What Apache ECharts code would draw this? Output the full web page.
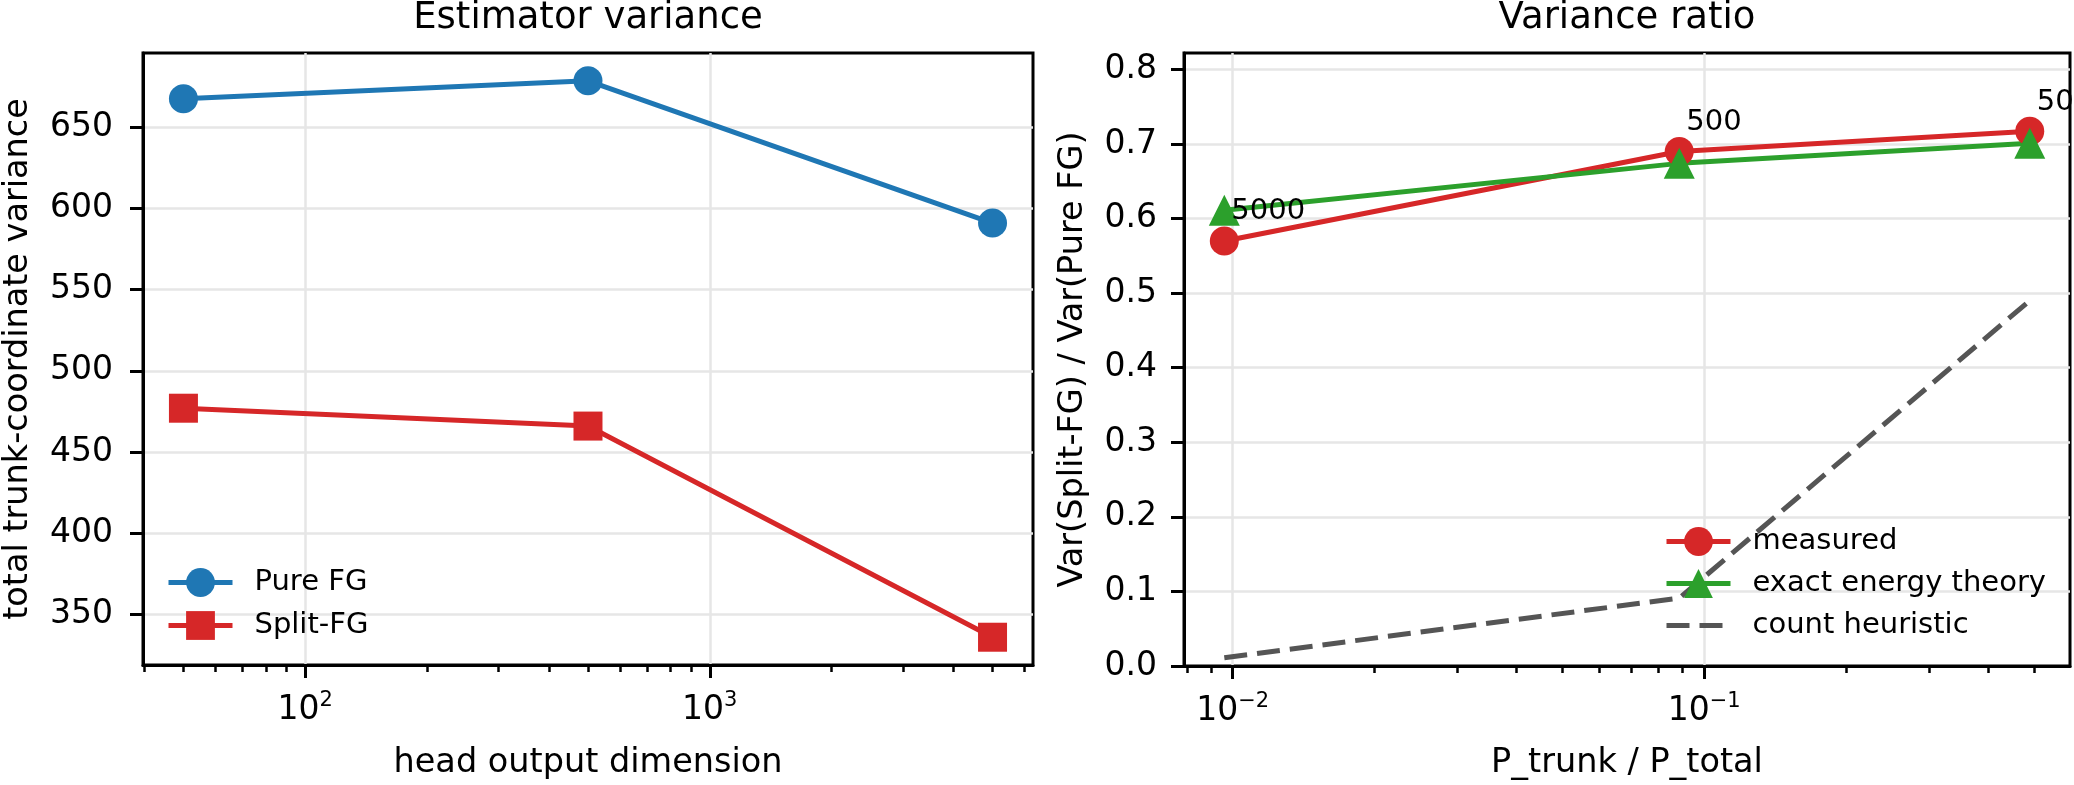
<!DOCTYPE html>
<html><head><meta charset="utf-8">
<script src="https://cdn.jsdelivr.net/npm/echarts@6/dist/echarts.min.js"></script>
<style>html,body{margin:0;padding:0;background:#fff}#c{width:2074px;height:785px}</style>
</head><body><div id="c"></div>
<script>
// ---- data ----
const headDims = [50, 500, 5000];
const pureFG = [667.6, 678.6, 591];
const splitFG = [477, 466, 336];
const pTrunkRatio = [0.0096, 0.0885, 0.49];
const measuredRatio = [0.570, 0.690, 0.717];
const theoryRatio = [0.611, 0.674, 0.701];
const countRatio = [0.011, 0.091, 0.49];
const pointLabels = ['5000', '500', '50'];
const leftYTicks = [350, 400, 450, 500, 550, 600, 650];
const rightYTicks = [0, 0.1, 0.2, 0.3, 0.4, 0.5, 0.6, 0.7, 0.8];
const leftXMajor = [100, 1000];
const leftXMinor = [40, 50, 60, 70, 80, 90, 200, 300, 400, 500, 600, 700, 800, 900, 2000, 3000, 4000, 5000, 6000];
const rightXMajor = [0.01, 0.1];
const rightXMinor = [0.008, 0.009, 0.02, 0.03, 0.04, 0.05, 0.06, 0.07, 0.08, 0.09, 0.2, 0.3, 0.4, 0.5];

const FONT = 'DejaVu Sans';
const TICK_FS = 33, LABEL_FS = 33.5, TITLE_FS = 37, LEG_FS = 29;
const chart = echarts.init(document.getElementById('c'), null, {renderer: 'canvas'});

function pairs(xs, ys) { return xs.map((x, i) => [x, ys[i]]); }
function powLabel(v) {
  const e = Math.round(Math.log10(v));
  const s = e < 0 ? '\u2212' + (-e) : String(e);
  return '{b|10}{s|' + s + '}';
}
const powRich = {
  b: {fontSize: TICK_FS, fontFamily: FONT, color: '#000', lineHeight: 41},
  s: {fontSize: 21, fontFamily: FONT, color: '#000', lineHeight: 21, verticalAlign: 'top'}
};
const gridLine = {show: true, lineStyle: {color: '#e6e6e6', width: 2.5}};

function majorX(grid, min, max, major, name, gap) {
  return {
    gridIndex: grid, type: 'log', logBase: 10, min: min, max: max, position: 'bottom',
    name: name, nameLocation: 'middle', nameGap: gap,
    nameTextStyle: {fontSize: LABEL_FS, fontFamily: FONT, color: '#000'},
    axisLine: {show: true, onZero: false, lineStyle: {color: '#000', width: 3}},
    axisTick: {show: true, customValues: major, length: 13, lineStyle: {color: '#000', width: 3}},
    axisLabel: {show: true, customValues: major, formatter: powLabel, rich: powRich, margin: 25},
    splitLine: gridLine, minorTick: {show: false}, minorSplitLine: {show: false}
  };
}
function minorX(grid, min, max, minor) {
  return {
    gridIndex: grid, type: 'log', logBase: 10, min: min, max: max, position: 'bottom',
    axisLine: {show: false, onZero: false},
    axisTick: {show: true, customValues: minor, length: 7, lineStyle: {color: '#000', width: 2.5}},
    axisLabel: {show: false}, splitLine: {show: false}
  };
}
function yAx(grid, min, max, ticks, fmt, name, gap, margin) {
  return {
    gridIndex: grid, type: 'value', min: min, max: max, position: 'left',
    name: name, nameLocation: 'middle', nameGap: gap,
    nameTextStyle: {fontSize: LABEL_FS, fontFamily: FONT, color: '#000'},
    axisLine: {show: true, lineStyle: {color: '#000', width: 3}},
    axisTick: {show: true, customValues: ticks, length: 13, lineStyle: {color: '#000', width: 3}},
    axisLabel: {show: true, customValues: ticks, formatter: fmt, fontSize: TICK_FS, fontFamily: FONT, color: '#000', margin: margin},
    splitLine: gridLine
  };
}
function legendBox(left, top, gap, data) {
  return {
    show: true, orient: 'vertical', left: left, top: top, padding: 0,
    itemWidth: 64, itemHeight: 36, itemGap: gap, selectedMode: false, data: data,
    lineStyle: {width: 5},
    textStyle: {fontSize: LEG_FS, fontFamily: FONT, color: '#000', padding: [0, 0, 0, 17]}
  };
}

const option = {
  animation: false,
  backgroundColor: '#fff',
  textStyle: {fontFamily: FONT},
  grid: [
    {left: 143, top: 53, width: 890, height: 614, show: true, borderColor: '#000', borderWidth: 3, backgroundColor: 'transparent'},
    {left: 1184, top: 53, width: 886, height: 615, show: true, borderColor: '#000', borderWidth: 3, backgroundColor: 'transparent'}
  ],
  graphic: [
    {type: 'text', x: 588, y: 18, style: {text: 'Estimator variance', fontSize: TITLE_FS, fontFamily: FONT, fill: '#000', align: 'center', verticalAlign: 'middle'}},
    {type: 'text', x: 1627, y: 18, style: {text: 'Variance ratio', fontSize: TITLE_FS, fontFamily: FONT, fill: '#000', align: 'center', verticalAlign: 'middle'}}
  ],
  xAxis: [
    majorX(0, 39.72, 6295, leftXMajor, 'head output dimension', 81),
    minorX(0, 39.72, 6295, leftXMinor),
    majorX(1, 0.007885, 0.5964, rightXMajor, 'P_trunk / P_total', 80),
    minorX(1, 0.007885, 0.5964, rightXMinor)
  ],
  yAxis: [
    yAx(0, 318.9, 695.7, leftYTicks, v => String(Math.round(v)), 'total trunk-coordinate variance', 108, 30),
    yAx(1, 0, 0.822, rightYTicks, v => v.toFixed(1), 'Var(Split-FG) / Var(Pure FG)', 94, 27)
  ],
  legend: [
    legendBox(166, 568, 14, ['Pure FG', 'Split-FG']),
    legendBox(1664, 527, 13, ['measured', 'exact energy theory', {name: 'count heuristic', itemStyle: {opacity: 0}}])
  ],
  series: [
    {
      name: 'Pure FG', type: 'line', xAxisIndex: 0, yAxisIndex: 0, data: pairs(headDims, pureFG),
      symbol: 'circle', symbolSize: 29, showAllSymbol: true,
      lineStyle: {color: '#1f77b4', width: 5}, itemStyle: {color: '#1f77b4'}
    },
    {
      name: 'Split-FG', type: 'line', xAxisIndex: 0, yAxisIndex: 0, data: pairs(headDims, splitFG),
      symbol: 'rect', symbolSize: 29, showAllSymbol: true,
      lineStyle: {color: '#d62728', width: 5}, itemStyle: {color: '#d62728'}
    },
    {
      name: 'measured', type: 'line', xAxisIndex: 2, yAxisIndex: 1, data: pairs(pTrunkRatio, measuredRatio),
      symbol: 'circle', symbolSize: 29, showAllSymbol: true,
      lineStyle: {color: '#d62728', width: 5}, itemStyle: {color: '#d62728'},
      label: {
        show: true, position: 'inside', offset: [7, -29], align: 'left', verticalAlign: 'middle',
        fontSize: LEG_FS, fontFamily: FONT, color: '#000',
        formatter: p => pointLabels[p.dataIndex]
      }
    },
    {
      name: 'exact energy theory', type: 'line', xAxisIndex: 2, yAxisIndex: 1, data: pairs(pTrunkRatio, theoryRatio),
      symbol: 'triangle', symbolSize: 31, showAllSymbol: true,
      lineStyle: {color: '#2ca02c', width: 5}, itemStyle: {color: '#2ca02c'}
    },
    {
      name: 'count heuristic', type: 'line', xAxisIndex: 2, yAxisIndex: 1, data: pairs(pTrunkRatio, countRatio),
      symbol: 'none', showSymbol: false,
      lineStyle: {color: '#555555', width: 5, type: [23, 10]}, itemStyle: {color: '#555555'}
    }
  ]
};
chart.setOption(option);
</script>
</body></html>
